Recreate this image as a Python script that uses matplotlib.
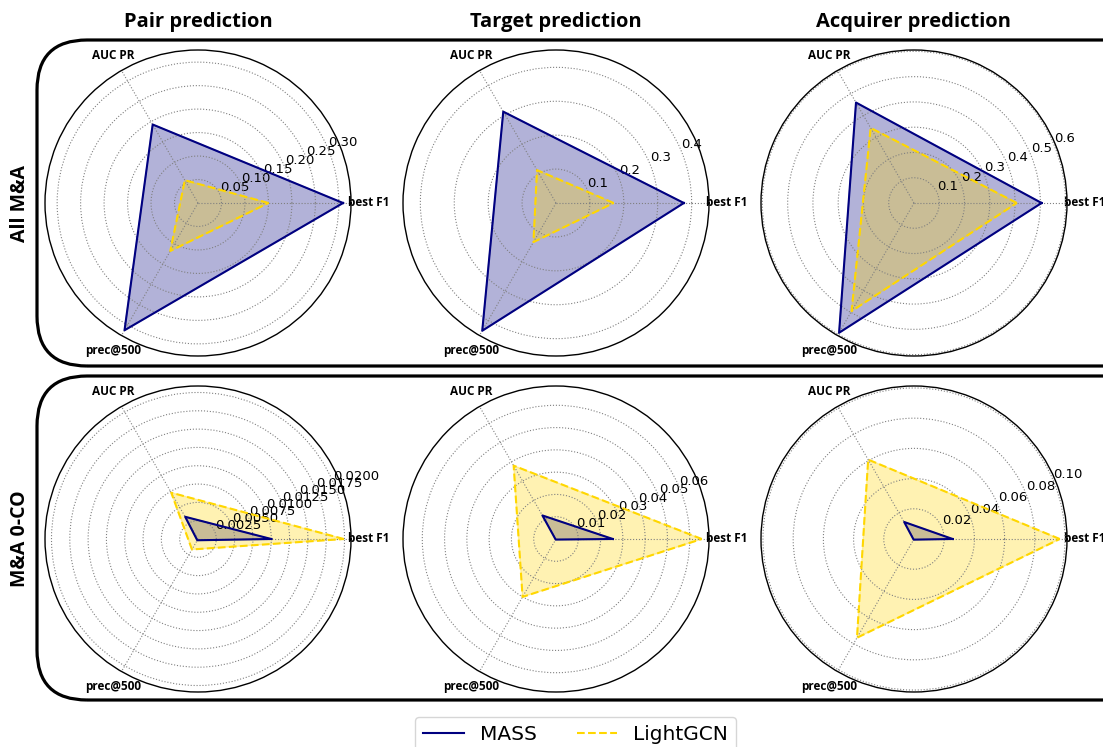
import numpy as np
import matplotlib
matplotlib.use('Agg')
import matplotlib.pyplot as plt
from matplotlib.patches import FancyBboxPatch

metrics = ['best F1', 'AUC PR', 'prec@500']
col_titles = ['Pair prediction', 'Target prediction', 'Acquirer prediction']
row_titles = ['All M&A', 'M&A 0-CO']
models = ['MASS', 'LightGCN']

# values ordered as [best F1, AUC PR, prec@500]
mass_all = [[0.309, 0.193, 0.313], [0.377, 0.311, 0.435], [0.505, 0.459, 0.593]]
lightgcn_all = [[0.150, 0.056, 0.118], [0.170, 0.112, 0.133], [0.407, 0.343, 0.494]]
mass_0co = [[0.0100, 0.0035, 0.0002], [0.0255, 0.0122, 0.0003], [0.0256, 0.0130, 0.0005]]
lightgcn_0co = [[0.0199, 0.0073, 0.00165], [0.0654, 0.0380, 0.0300], [0.0965, 0.0607, 0.0755]]

colors = {'MASS': 'navy', 'LightGCN': '#FFD700'}
styles = {'MASS': '-', 'LightGCN': '--'}

W, H = 1103, 747
fig = plt.figure(figsize=(W / 100, H / 100), dpi=100)

BOLD = ['Open Sans', 'DejaVu Sans']

# rounded row boxes (inches)
for y0, h in [(3.81, 3.26), (0.47, 3.24)]:
    box = FancyBboxPatch((0.37, y0), 11.5, h, boxstyle='round,pad=0,rounding_size=0.5',
                         transform=fig.dpi_scale_trans, fill=False, ec='black', lw=2.3,
                         clip_on=False)
    fig.patches.append(box)

angles_deg = np.array([0, 120, 240])
angles = np.deg2rad(angles_deg)
closed = np.concatenate([angles, angles[:1]])

cx = [198, 556, 914]
cy = [203, 539]
R = 153
data = [(mass_all, lightgcn_all), (mass_0co, lightgcn_0co)]

for r in range(2):
    for c in range(3):
        rect = [(cx[c] - R) / W, (H - cy[r] - R) / H, 2 * R / W, 2 * R / H]
        ax = fig.add_axes(rect, projection='polar')
        for name, series in zip(models, data[r]):
            vals = np.array(series[c])
            v = np.concatenate([vals, vals[:1]])
            ax.plot(closed, v, color=colors[name], ls=styles[name], lw=1.5, label=name)
            ax.fill(closed, v, color=colors[name], alpha=0.3)
        ax.set_thetagrids(angles_deg, metrics)
        for lab in ax.get_xticklabels():
            lab.set_fontweight('bold')
            lab.set_fontsize(8.5)
            lab.set_family(BOLD)
        ax.tick_params(axis='x', pad=2)
        ax.tick_params(axis='y', labelsize=9.5)
        ax.grid(True, ls=':', color='gray', lw=0.8)
        ax.spines['polar'].set_linewidth(1.0)
        if r == 0:
            fig.text(cx[c] / W, 1 - 22 / H, col_titles[c], ha='center', va='center',
                     fontsize=14.5, fontweight='bold', family=BOLD)
        if c == 0:
            fig.text(20 / W, 1 - cy[r] / H, row_titles[r], ha='center', va='center',
                     rotation=90, fontsize=14, fontweight='bold', family=BOLD)
        if r == 0 and c == 0:
            handles, labels = ax.get_legend_handles_labels()

fig.legend(handles, labels, loc='upper center', bbox_to_anchor=(0.522, 1 - 717 / H),
           borderaxespad=0, ncol=2, fontsize=14.5, frameon=True, columnspacing=2.0)

fig.savefig('out.png', dpi=100)
